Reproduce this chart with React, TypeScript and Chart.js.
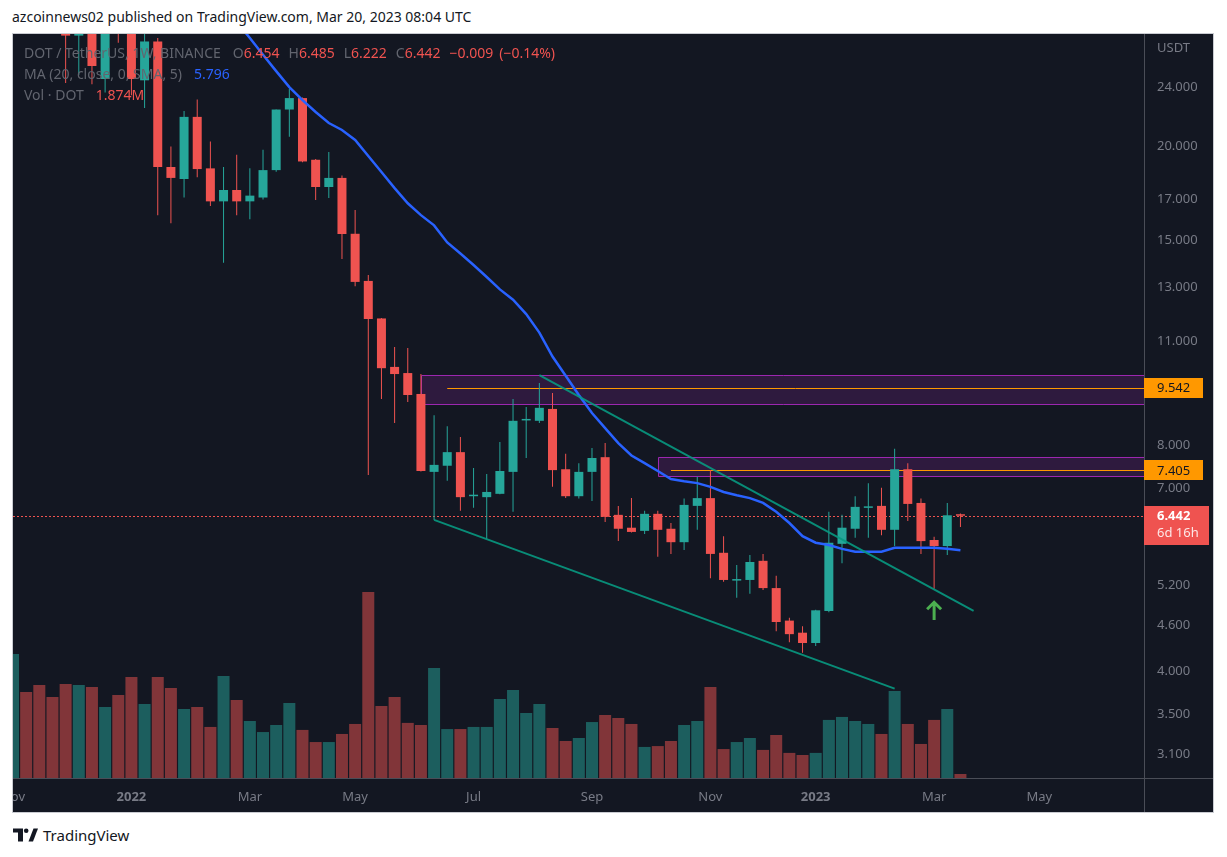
import React, { useEffect, useRef } from 'react';
import { Chart, registerables } from 'chart.js';

Chart.register(...registerables);

const FONT = '"Noto Sans", "Open Sans", Roboto, sans-serif';

// week index 0 = weekly candle of 3 Jan 2022 (DOT/USDT, 1W, Binance)
const FIRST_WEEK = -9;

const OPEN = [
  43.6, 49.9, 43.0, 39.0, 36.3, 28.1, 29.8, 24.6, 30.3, 29.6,
  24.5, 27.6, 18.78, 18.10, 21.9, 18.7, 16.9, 17.5, 16.9, 17.1,
  18.6, 22.4, 23.2, 19.2, 17.66, 18.16, 15.3, 13.24, 11.8, 10.17,
  9.98, 9.36, 7.37, 7.51, 7.83, 6.84, 6.82, 6.89, 7.37, 8.63,
  8.62, 8.94, 7.43, 6.84, 7.37, 7.71, 6.46, 6.21, 6.15, 6.48,
  6.19, 5.94, 6.64, 6.80, 5.75, 5.28, 5.29, 5.61, 5.16, 4.67,
  4.50, 4.36, 4.81, 5.91, 6.19, 6.60, 6.64, 6.17, 7.43, 6.70,
  5.98, 5.87, 6.454,
];
const HIGH = [
  55.0, 52.2, 45.9, 44.0, 40.0, 31.8, 30.6, 31.0, 31.5, 30.0,
  29.0, 27.9, 20.0, 22.3, 23.1, 20.3, 18.78, 19.5, 18.7, 19.8,
  22.4, 23.85, 23.25, 19.25, 19.66, 18.3, 16.46, 13.48, 11.82, 10.81,
  10.78, 9.95, 8.77, 8.48, 8.20, 7.46, 7.32, 8.08, 9.22, 8.99,
  9.68, 9.39, 7.79, 7.57, 7.93, 8.05, 6.64, 6.80, 6.54, 6.54,
  6.30, 6.79, 7.26, 7.41, 6.05, 5.54, 5.71, 5.73, 5.36, 4.71,
  4.59, 4.83, 6.52, 6.46, 6.84, 7.12, 7.02, 7.91, 7.57, 6.79,
  6.04, 6.70, 6.485,
];
const LOW = [
  41.5, 42.0, 37.0, 35.0, 24.3, 24.9, 24.2, 23.6, 27.5, 23.4,
  22.5, 16.2, 15.8, 17.1, 18.2, 16.66, 14.0, 16.2, 16.0, 17.0,
  18.5, 20.6, 19.05, 16.97, 17.07, 14.16, 13.03, 7.30, 9.22, 8.56,
  9.13, 7.38, 6.36, 7.17, 6.54, 6.60, 6.00, 6.88, 6.52, 7.69,
  8.56, 7.04, 6.80, 6.79, 6.74, 6.32, 5.96, 6.12, 6.09, 5.68,
  5.73, 5.80, 6.17, 5.32, 5.26, 5.01, 5.07, 5.13, 4.52, 4.37,
  4.23, 4.32, 4.79, 5.57, 6.02, 6.02, 6.07, 5.87, 6.34, 5.73,
  5.15, 5.71, 6.222,
];
const CLOSE = [
  49.9, 43.0, 39.0, 36.3, 28.1, 29.8, 25.6, 30.3, 29.6, 24.6,
  27.6, 18.78, 18.16, 21.9, 18.66, 16.9, 17.5, 16.9, 17.2, 18.6,
  22.4, 23.2, 19.1, 17.66, 18.16, 15.29, 13.2, 11.78, 10.13, 9.95,
  9.33, 7.39, 7.53, 7.83, 6.82, 6.87, 6.93, 7.39, 8.62, 8.66,
  8.97, 7.41, 6.84, 7.37, 7.69, 6.42, 6.19, 6.13, 6.48, 6.17,
  5.94, 6.66, 6.80, 5.73, 5.29, 5.30, 5.59, 5.16, 4.65, 4.48,
  4.36, 4.82, 5.93, 6.21, 6.62, 6.63, 6.17, 7.43, 6.68, 5.96,
  5.87, 6.451, 6.442,
];
// weekly volume, millions of DOT
const VOLUME = [
  58.3, 40.4, 43.7, 38.1, 44.2, 43.7, 42.8, 33.4, 39.0, 47.5,
  34.8, 47.5, 42.3, 32.4, 33.4, 24.0, 47.9, 36.7, 26.8, 21.6,
  24.9, 35.3, 22.6, 16.9, 16.9, 20.7, 25.4, 87.4, 33.8, 38.1,
  25.9, 24.9, 51.7, 23.0, 23.0, 24.0, 24.0, 37.1, 41.4, 30.6,
  34.8, 23.5, 17.4, 18.8, 26.3, 29.6, 28.2, 25.4, 14.6, 15.0,
  17.4, 24.9, 26.8, 42.8, 13.6, 16.9, 18.8, 13.2, 20.2, 11.8,
  10.8, 11.8, 27.3, 28.7, 26.8, 25.4, 20.7, 40.9, 25.4, 16.0,
  27.3, 32.4, 1.874,
];

// MA(20, close) as drawn, from week 8 on
const MA_FIRST_WEEK = 8;
const MA20 = [
  29.3, 27.9, 26.5, 25.2, 24.0, 23.06, 22.23, 21.49, 21.04, 20.40,
  19.42, 18.49, 17.6, 16.8, 16.2, 15.7, 14.9, 14.4, 13.9, 13.4,
  12.9, 12.5, 11.96, 11.3, 10.5, 9.9, 9.33, 8.83, 8.43, 8.05,
  7.75, 7.57, 7.39, 7.21, 7.16, 7.12, 7.04, 6.93, 6.86, 6.80,
  6.70, 6.52, 6.30, 6.05, 5.93, 5.89, 5.82, 5.77, 5.77, 5.77,
  5.84, 5.84, 5.84, 5.84, 5.82, 5.796,
];

// drawings
const TREND_LOWER_WEEKS = [23, 58];
const TREND_LOWER_PRICES = [6.36, 3.79];
const TREND_UPPER_WEEKS = [31, 64];
const TREND_UPPER_PRICES = [9.92, 4.81];
const ZONE_START_WEEKS = [22, 40];
const ZONE_TOPS = [9.92, 7.71];
const ZONE_BOTTOMS = [9.07, 7.27];
const LEVEL_START_WEEKS = [24, 41];
const LEVEL_PRICES = [9.542, 7.405];
const LAST_PRICE = 6.442;
const COUNTDOWN = '6d 16h';
const ARROW_WEEK = 61;
const ARROW_TOP = 4.94;
const ARROW_BOTTOM = 4.68;

const X_TICK_WEEKS = [-9, 0, 9, 17, 26, 35, 44, 52, 61, 69];
const X_TICK_LABELS = ['Nov', '2022', 'Mar', 'May', 'Jul', 'Sep', 'Nov', '2023', 'Mar', 'May'];
const Y_TICKS = [3.1, 3.5, 4, 4.6, 5.2, 7, 8, 11, 13, 15, 17, 20, 24];

const X_MIN = -9;
const X_MAX = 76.95;
const PRICE_MIN = 2.8815;
const PRICE_MAX = 28.24;
const VOLUME_AXIS_MAX = 349.7;

const TEAL = '#26a69a';
const RED = '#ef5350';
const TEAL_VOL = 'rgba(38,166,154,0.5)';
const RED_VOL = 'rgba(239,83,80,0.5)';
const AXIS_TEXT = '#787b86';
const LEGEND_GRAY = '#62656f';

const weeks = OPEN.map((_, i) => FIRST_WEEK + i);
const isUp = CLOSE.map((c, i) => c >= OPEN[i]);

const noPadding = (s: any) => {
  s.paddingLeft = 0;
  s.paddingRight = 0;
  s.paddingTop = 0;
  s.paddingBottom = 0;
};

const overlayPlugin = {
  id: 'tvOverlay',
  beforeDatasetsDraw(chart: any) {
    const { ctx, chartArea: a, scales } = chart;
    const xs = scales.x;
    const ys = scales.y;
    ctx.save();
    ctx.beginPath();
    ctx.rect(a.left, a.top, a.right - a.left, a.bottom - a.top);
    ctx.clip();
    ZONE_START_WEEKS.forEach((w, i) => {
      const x0 = Math.round(xs.getPixelForValue(w)) + 0.5;
      const y0 = Math.round(ys.getPixelForValue(ZONE_TOPS[i])) + 0.5;
      const y1 = Math.round(ys.getPixelForValue(ZONE_BOTTOMS[i])) + 0.5;
      ctx.fillStyle = 'rgba(156,39,176,0.2)';
      ctx.fillRect(x0, y0, a.right - x0, y1 - y0);
      ctx.strokeStyle = '#9c27b0';
      ctx.lineWidth = 1;
      ctx.beginPath();
      ctx.moveTo(a.right + 2, y0);
      ctx.lineTo(x0, y0);
      ctx.lineTo(x0, y1);
      ctx.lineTo(a.right + 2, y1);
      ctx.stroke();
    });
    LEVEL_START_WEEKS.forEach((w, i) => {
      const x0 = xs.getPixelForValue(w);
      const y = Math.round(ys.getPixelForValue(LEVEL_PRICES[i])) + 0.5;
      ctx.strokeStyle = '#ff9800';
      ctx.lineWidth = 1;
      ctx.beginPath();
      ctx.moveTo(x0, y);
      ctx.lineTo(a.right, y);
      ctx.stroke();
    });
    // last price dotted line
    const yl = Math.round(ys.getPixelForValue(LAST_PRICE)) + 0.5;
    ctx.strokeStyle = RED;
    ctx.setLineDash([2, 2]);
    ctx.beginPath();
    ctx.moveTo(a.left, yl);
    ctx.lineTo(a.right, yl);
    ctx.stroke();
    ctx.setLineDash([]);
    ctx.restore();
  },
  afterDatasetsDraw(chart: any) {
    const { ctx, scales } = chart;
    const cx = scales.x.getPixelForValue(ARROW_WEEK);
    const yt = scales.y.getPixelForValue(ARROW_TOP);
    const yb = scales.y.getPixelForValue(ARROW_BOTTOM);
    ctx.save();
    ctx.strokeStyle = '#4caf50';
    ctx.lineWidth = 3;
    ctx.lineJoin = 'miter';
    ctx.beginPath();
    ctx.moveTo(cx, yt + 2);
    ctx.lineTo(cx, yb);
    ctx.moveTo(cx - 7, yt + 7);
    ctx.lineTo(cx, yt);
    ctx.lineTo(cx + 7, yt + 7);
    ctx.stroke();
    ctx.restore();
  },
  afterDraw(chart: any) {
    const { ctx, chartArea: a, scales, width, height } = chart;
    const ys = scales.y;
    ctx.save();
    // pane separators
    ctx.strokeStyle = '#4a4d57';
    ctx.lineWidth = 1;
    ctx.beginPath();
    ctx.moveTo(Math.round(a.right) + 0.5, 0);
    ctx.lineTo(Math.round(a.right) + 0.5, height);
    ctx.moveTo(0, Math.round(a.bottom) + 0.5);
    ctx.lineTo(width, Math.round(a.bottom) + 0.5);
    ctx.stroke();

    ctx.textBaseline = 'middle';
    ctx.textAlign = 'left';
    // currency label
    ctx.font = `13px ${FONT}`;
    ctx.fillStyle = AXIS_TEXT;
    ctx.fillText('USDT', a.right + 13, 14);

    // level labels
    LEVEL_PRICES.forEach((p) => {
      const y = ys.getPixelForValue(p);
      ctx.fillStyle = '#ff9800';
      ctx.fillRect(a.right, Math.round(y) - 10, 59, 20);
      ctx.fillStyle = '#131722';
      ctx.font = `13px ${FONT}`;
      ctx.fillText(p.toFixed(3), a.right + 13, y + 0.5);
    });
    // last price label
    const yl = ys.getPixelForValue(LAST_PRICE);
    ctx.fillStyle = RED;
    ctx.fillRect(a.right, Math.round(yl) - 10, 65, 39);
    ctx.fillStyle = '#ffffff';
    ctx.font = `bold 13px ${FONT}`;
    ctx.fillText(LAST_PRICE.toFixed(3), a.right + 13, yl + 1);
    ctx.fillStyle = 'rgba(255,255,255,0.85)';
    ctx.font = `13px ${FONT}`;
    ctx.fillText(COUNTDOWN, a.right + 13, yl + 18);

    // legend
    const drawRow = (y: number, parts: [string, string, number][]) => {
      let x = 11;
      ctx.font = `14px ${FONT}`;
      parts.forEach(([text, color, gap]) => {
        ctx.fillStyle = color;
        ctx.fillText(text, x, y);
        x += ctx.measureText(text).width + gap;
      });
    };
    const last = OPEN.length - 1;
    const chg = CLOSE[last] - CLOSE[last - 1];
    const chgPct = (chg / CLOSE[last - 1]) * 100;
    const vc = isUp[last] ? TEAL : RED;
    drawRow(20, [
      ['DOT / TetherUS, 1W, BINANCE', LEGEND_GRAY, 12],
      ['O', LEGEND_GRAY, 0],
      [OPEN[last].toFixed(3), vc, 9],
      ['H', LEGEND_GRAY, 0],
      [HIGH[last].toFixed(3), vc, 9],
      ['L', LEGEND_GRAY, 0],
      [LOW[last].toFixed(3), vc, 9],
      ['C', LEGEND_GRAY, 0],
      [CLOSE[last].toFixed(3), vc, 9],
      [(chg < 0 ? '\u2212' : '+') + Math.abs(chg).toFixed(3), vc, 6],
      ['(' + (chgPct < 0 ? '\u2212' : '+') + Math.abs(chgPct).toFixed(2) + '%)', vc, 0],
    ]);
    drawRow(41, [
      ['MA (20, close, 0, SMA, 5)', LEGEND_GRAY, 12],
      [MA20[MA20.length - 1].toFixed(3), '#2962ff', 0],
    ]);
    drawRow(62, [
      ['Vol \u00b7 DOT', LEGEND_GRAY, 12],
      [VOLUME[last].toFixed(3) + 'M', vc, 0],
    ]);
    ctx.restore();
  },
};

export default function App() {
  const ref = useRef<HTMLCanvasElement>(null);

  useEffect(() => {
    if (!ref.current) return;
    const chart = new Chart(ref.current, {
      type: 'bar',
      data: {
        datasets: [
          {
            type: 'bar',
            label: 'Volume',
            yAxisID: 'yv',
            data: weeks.map((w, i) => ({ x: w, y: VOLUME[i] })),
            backgroundColor: isUp.map((u) => (u ? TEAL_VOL : RED_VOL)),
            barThickness: 12,
            grouped: false,
            borderWidth: 0,
            inflateAmount: 0,
            order: 5,
          } as any,
          {
            type: 'bar',
            label: 'Wicks',
            yAxisID: 'y',
            data: weeks.map((w, i) => ({ x: w, y: [LOW[i], HIGH[i]] })),
            backgroundColor: isUp.map((u) => (u ? TEAL : RED)),
            barThickness: 1,
            grouped: false,
            borderWidth: 0,
            inflateAmount: 0,
            order: 4,
          } as any,
          {
            type: 'bar',
            label: 'Bodies',
            yAxisID: 'y',
            data: weeks.map((w, i) => ({ x: w, y: [OPEN[i], CLOSE[i]] })),
            backgroundColor: isUp.map((u) => (u ? TEAL : RED)),
            barThickness: 9,
            minBarLength: 1.5,
            grouped: false,
            borderWidth: 0,
            inflateAmount: 0,
            order: 3,
          } as any,
          {
            type: 'line',
            label: 'MA 20',
            yAxisID: 'y',
            data: MA20.map((v, i) => ({ x: MA_FIRST_WEEK + i, y: v })),
            borderColor: '#2962ff',
            borderWidth: 2.5,
            pointRadius: 0,
            tension: 0,
            fill: false,
            order: 2,
          } as any,
          {
            type: 'line',
            label: 'Lower trend',
            yAxisID: 'y',
            data: TREND_LOWER_WEEKS.map((w, i) => ({ x: w, y: TREND_LOWER_PRICES[i] })),
            borderColor: 'rgba(8,153,129,0.9)',
            borderWidth: 2,
            pointRadius: 0,
            fill: false,
            order: 1,
          } as any,
          {
            type: 'line',
            label: 'Upper trend',
            yAxisID: 'y',
            data: TREND_UPPER_WEEKS.map((w, i) => ({ x: w, y: TREND_UPPER_PRICES[i] })),
            borderColor: 'rgba(8,153,129,0.9)',
            borderWidth: 2,
            pointRadius: 0,
            fill: false,
            order: 1,
          } as any,
        ],
      },
      options: {
        animation: false,
        responsive: false,
        events: [],
        layout: { padding: 0, autoPadding: false } as any,
        plugins: {
          legend: { display: false },
          tooltip: { enabled: false },
        },
        scales: {
          x: {
            type: 'linear',
            min: X_MIN,
            max: X_MAX,
            offset: false,
            grid: { display: false, drawTicks: false },
            border: { display: false },
            afterFit: (s: any) => {
              s.height = 34;
              noPadding(s);
            },
            afterBuildTicks: (s: any) => {
              s.ticks = X_TICK_WEEKS.map((v) => ({ value: v }));
            },
            ticks: {
              autoSkip: false,
              maxRotation: 0,
              padding: 11,
              color: AXIS_TEXT,
              font: (c: any) => ({
                family: FONT,
                size: 13,
                weight: /^\d{4}$/.test(X_TICK_LABELS[c.index] || '') ? 'bold' : 'normal',
              }),
              callback: (v: any) => {
                const i = X_TICK_WEEKS.indexOf(Number(v));
                return i >= 0 ? X_TICK_LABELS[i] : '';
              },
            },
          } as any,
          y: {
            type: 'logarithmic',
            position: 'right',
            min: PRICE_MIN,
            max: PRICE_MAX,
            grid: { display: false, drawTicks: false },
            border: { display: false },
            afterFit: (s: any) => {
              s.width = 69;
              noPadding(s);
            },
            afterBuildTicks: (s: any) => {
              s.ticks = Y_TICKS.map((v) => ({ value: v }));
            },
            ticks: {
              autoSkip: false,
              padding: 13,
              color: AXIS_TEXT,
              font: { family: FONT, size: 13 },
              callback: (v: any) => Number(v).toFixed(3),
            },
          } as any,
          yv: {
            type: 'linear',
            display: false,
            min: 0,
            max: VOLUME_AXIS_MAX,
          },
        },
      } as any,
      plugins: [overlayPlugin],
    });
    return () => chart.destroy();
  }, []);

  return (
    <div
      style={{
        position: 'absolute',
        left: 0,
        top: 0,
        width: 1227,
        height: 857,
        background: '#ffffff',
        fontFamily: FONT,
        overflow: 'hidden',
      }}
    >
      <div
        style={{
          position: 'absolute',
          left: 12,
          top: 8,
          fontSize: 14,
          lineHeight: '18px',
          color: '#131722',
          whiteSpace: 'nowrap',
        }}
      >
        azcoinnews02 published on TradingView.com, Mar 20, 2023 08:04 UTC
      </div>
      <div
        style={{
          position: 'absolute',
          left: 12,
          top: 33,
          width: 1202,
          height: 780,
          boxSizing: 'border-box',
          border: '1px solid #c9cbd1',
          background: '#131722',
        }}
      >
        <canvas ref={ref} width={1200} height={778} style={{ display: 'block', width: 1200, height: 778 }} />
      </div>
      <div style={{ position: 'absolute', left: 13, top: 826, display: 'flex', alignItems: 'center' }}>
        <svg width="25" height="14" viewBox="0 0 25 13" style={{ display: 'block' }}>
          <path d="M0 0H10V13H5V4H0Z" fill="#131722" />
          <circle cx="13.2" cy="2.3" r="2.3" fill="#131722" />
          <path d="M15.5 13L20.5 0H25L20 13Z" fill="#131722" />
        </svg>
        <span style={{ marginLeft: 5, fontSize: 15, color: '#131722', lineHeight: '18px' }}>TradingView</span>
      </div>
    </div>
  );
}
